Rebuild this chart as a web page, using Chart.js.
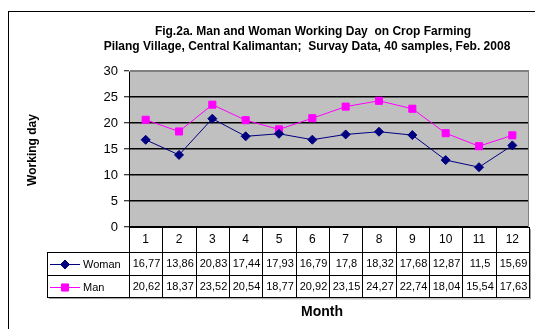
<!DOCTYPE html>
<html>
<head>
<meta charset="utf-8">
<script src="https://cdn.jsdelivr.net/npm/chart.js@4.4.1/dist/chart.umd.min.js"></script>
<style>
  html, body { margin: 0; padding: 0; background: #fff; }
  canvas { display: block; }
</style>
</head>
<body>
<canvas id="mycanvas" width="535" height="329"></canvas>
<script>
// working days per month, 40 samples
var months = ["1", "2", "3", "4", "5", "6", "7", "8", "9", "10", "11", "12"];
var woman = [16.77, 13.86, 20.83, 17.44, 17.93, 16.79, 17.8, 18.32, 17.68, 12.87, 11.5, 15.69];
var man = [20.62, 18.37, 23.52, 20.54, 18.77, 20.92, 23.15, 24.27, 22.74, 18.04, 15.54, 17.63];
var yTicks = [0, 5, 10, 15, 20, 25, 30];

var titleLines = [
  "Fig.2a. Man and Woman Working Day  on Crop Farming",
  "Pilang Village, Central Kalimantan;  Survay Data, 40 samples, Feb. 2008"
];

var FONT = "Arial, 'Liberation Sans', sans-serif";

function fmt(v) {
  return String(v).replace(".", ",");
}

// background, frame, titles and the data table under the plot
var decor = {
  id: "decor",
  beforeDraw: function(chart) {
    var ctx = chart.ctx, a = chart.chartArea;
    ctx.save();
    ctx.fillStyle = "#fff";
    ctx.fillRect(0, 0, chart.width, chart.height);
    ctx.strokeStyle = "#000";
    ctx.lineWidth = 1;
    ctx.strokeRect(8.5, 11.5, 700, 500);
    ctx.fillStyle = "#c0c0c0";
    ctx.fillRect(a.left, a.top, a.right - a.left, a.bottom - a.top);
    ctx.restore();
  },
  afterDraw: function(chart) {
    var ctx = chart.ctx, a = chart.chartArea, x = chart.scales.x;
    ctx.save();

    // plot border
    ctx.strokeStyle = "#808080";
    ctx.lineWidth = 1;
    ctx.beginPath();
    ctx.moveTo(a.left, a.top + 0.5);
    ctx.lineTo(a.right - 0.5, a.top + 0.5);
    ctx.lineTo(a.right - 0.5, a.bottom);
    ctx.stroke();

    // titles
    ctx.fillStyle = "#000";
    ctx.textAlign = "center";
    ctx.textBaseline = "middle";
    ctx.font = "bold 12px " + FONT;
    ctx.fillText(titleLines[0], 313, 32);
    ctx.fillText(titleLines[1], 307, 47);

    ctx.font = "bold 14px " + FONT;
    ctx.fillText("Month", 322, 312);

    ctx.save();
    ctx.translate(33, 150);
    ctx.rotate(-Math.PI / 2);
    ctx.font = "bold 12px " + FONT;
    ctx.fillText("Working day", 0, 0);
    ctx.restore();

    // data table
    var rows = [a.bottom, 252, 275, 297];
    var legLeft = 47;
    var edges = [a.left];
    for (var i = 0; i < months.length - 1; i++) {
      edges.push(Math.round((x.getPixelForValue(i) + x.getPixelForValue(i + 1)) / 2));
    }
    edges.push(a.right);

    ctx.strokeStyle = "#000";
    ctx.lineWidth = 1;
    ctx.beginPath();
    // horizontal lines
    ctx.moveTo(a.left, rows[0] + 0.5); ctx.lineTo(a.right, rows[0] + 0.5);
    for (var r = 1; r < rows.length; r++) {
      ctx.moveTo(legLeft, rows[r] + 0.5); ctx.lineTo(a.right, rows[r] + 0.5);
    }
    // vertical lines
    for (var e = 0; e < edges.length; e++) {
      ctx.moveTo(edges[e] + 0.5, rows[0]); ctx.lineTo(edges[e] + 0.5, rows[3] + 1);
    }
    ctx.moveTo(legLeft + 0.5, rows[1]); ctx.lineTo(legLeft + 0.5, rows[3] + 1);
    ctx.stroke();

    ctx.strokeStyle = "#a0a0a0";
    ctx.beginPath();
    ctx.moveTo(a.right + 1.5, rows[0] + 2); ctx.lineTo(a.right + 1.5, rows[3] + 2);
    ctx.lineTo(legLeft + 2, rows[3] + 1.5);
    ctx.stroke();

    ctx.fillStyle = "#000";
    ctx.textAlign = "center";
    ctx.font = "12px " + FONT;
    for (var c = 0; c < months.length; c++) {
      var cx = x.getPixelForValue(c);
      ctx.fillText(months[c], cx, 240);
    }
    ctx.font = "11px " + FONT;
    for (var c2 = 0; c2 < months.length; c2++) {
      var px = (edges[c2] + edges[c2 + 1]) / 2 + 1;
      ctx.fillText(fmt(woman[c2]), px, 264);
      ctx.fillText(fmt(man[c2]), px, 287);
    }

    // legend keys
    var sets = chart.data.datasets;
    var keyY = [264, 287];
    for (var s = 0; s < sets.length; s++) {
      var ds = sets[s];
      ctx.strokeStyle = ds.borderColor;
      ctx.lineWidth = 1;
      ctx.beginPath();
      ctx.moveTo(50, keyY[s] + 0.5); ctx.lineTo(80, keyY[s] + 0.5);
      ctx.stroke();
      Chart.helpers.drawPoint(ctx, {
        pointStyle: ds.pointStyle, radius: ds.pointRadius, borderWidth: 1, rotation: 0
      }, 65, keyY[s] + 0.5);
      ctx.fillStyle = ds.pointBackgroundColor;
      ctx.fill();
      ctx.fillStyle = "#000";
      ctx.textAlign = "left";
      ctx.font = "11px " + FONT;
      ctx.fillText(ds.label, 83, keyY[s] + 1);
    }
    ctx.restore();
  }
};

var ctx = document.getElementById("mycanvas");

var chartdata = {
  labels: months,
  datasets: [
    {
      label: "Woman",
      data: woman,
      borderColor: "#000080",
      backgroundColor: "#000080",
      pointBackgroundColor: "#000080",
      pointBorderColor: "#000080",
      pointStyle: "rectRot",
      pointRadius: 4.5,
      borderWidth: 1,
      tension: 0
    },
    {
      label: "Man",
      data: man,
      borderColor: "#ff00ff",
      backgroundColor: "#ff00ff",
      pointBackgroundColor: "#ff00ff",
      pointBorderColor: "#ff00ff",
      pointStyle: "rect",
      pointRadius: 5,
      borderWidth: 1,
      tension: 0
    }
  ]
};

var LineGraph = new Chart(ctx, {
  type: "line",
  data: chartdata,
  plugins: [decor],
  options: {
    responsive: false,
    animation: false,
    devicePixelRatio: 1,
    layout: { padding: { left: 0, top: 71, right: 4, bottom: 102 } },
    plugins: {
      legend: { display: false },
      tooltip: { enabled: false }
    },
    scales: {
      x: {
        type: "category",
        offset: true,
        display: false
      },
      y: {
        min: 0,
        max: 30,
        afterFit: function(scale) { scale.width = 129; },
        afterBuildTicks: function(scale) {
          scale.ticks = yTicks.map(function(v) { return { value: v }; });
        },
        ticks: {
          color: "#000",
          padding: 6,
          font: { family: FONT, size: 13 }
        },
        grid: {
          color: function(c) { return c.tick && c.tick.value === 30 ? "#808080" : "#000"; },
          lineWidth: 1.5,
          tickLength: 5,
          tickColor: "#000",
          tickWidth: 1
        },
        border: { color: "#000", width: 1 }
      }
    }
  }
});
</script>
</body>
</html>
